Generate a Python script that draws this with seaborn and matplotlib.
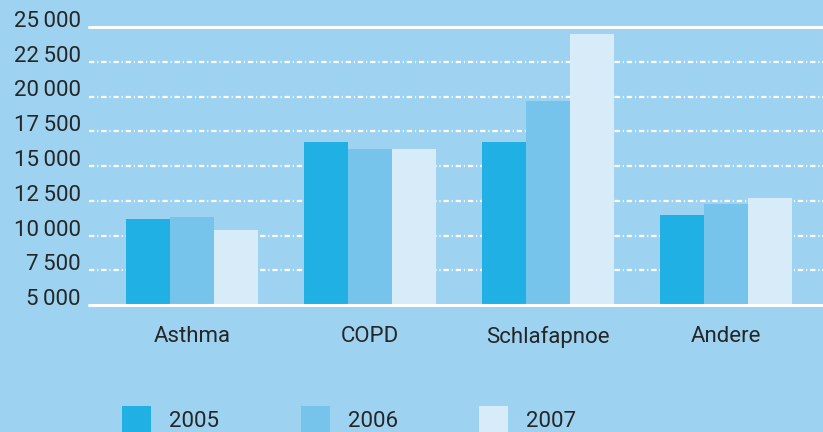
import matplotlib
matplotlib.use("Agg")
import matplotlib.pyplot as plt
from matplotlib import font_manager
from matplotlib.patches import Rectangle
import seaborn as sns
import pandas as pd

categories = ["Asthma", "COPD", "Schlafapnoe", "Andere"]
years = ["2005", "2006", "2007"]
values_2005 = [11200, 16700, 16700, 11500]
values_2006 = [11300, 16200, 19700, 12300]
values_2007 = [10400, 16200, 24500, 12700]
yticks = [5000, 7500, 10000, 12500, 15000, 17500, 20000, 22500, 25000]
ytick_labels = ["5\u2009000", "7\u2009500", "10\u2009000", "12\u2009500", "15\u2009000",
                "17\u2009500", "20\u2009000", "22\u2009500", "25\u2009000"]

colors = ["#20b0e4", "#76c4ec", "#d7ebf8"]
bg = "#9dd3f1"

sns.set_theme(style="white")
avail = {f.name for f in font_manager.fontManager.ttflist}
if "Liberation Sans Narrow" in avail:
    fam = ["Liberation Sans Narrow", "DejaVu Sans"]
    fs = 16.5
else:
    fam = ["Roboto", "DejaVu Sans"]
    fs = 16
plt.rcParams["font.family"] = fam
txtcol = "#262626"

rows = []
for y, vals in zip(years, [values_2005, values_2006, values_2007]):
    for c, v in zip(categories, vals):
        rows.append({"cat": c, "year": y, "value": v})
df = pd.DataFrame(rows)

W, H = 823, 432
fig = plt.figure(figsize=(W / 100, H / 100), dpi=100, facecolor=bg)
ax = fig.add_axes([89 / W, (H - 305) / H, (W - 89) / W, (305 - 27) / H])
ax.set_facecolor(bg)

# grid lines
for t in yticks[1:-1]:
    ax.axhline(t, color="white", lw=1.6, dashes=(2.4, 1.3, 0.5, 1.3), zorder=0)
ax.axhline(25000, color="white", lw=2.2, zorder=0, clip_on=False)

sns.barplot(data=df, x="cat", y="value", hue="year", palette=colors,
            saturation=1, width=0.742, gap=0, ax=ax, legend=False, zorder=2,
            linewidth=0)
ax.axhline(5000, color="white", lw=2.2, zorder=3, clip_on=False)

ax.set_ylim(5000, 25000)
ax.set_xlim(-0.579, 3.545)
ax.set_yticks(yticks)
ax.set_yticklabels(ytick_labels)
for lab in ax.get_yticklabels():
    lab.set_va("baseline")
ax.tick_params(axis="y", length=0, pad=6, labelsize=fs, labelcolor=txtcol)
ax.tick_params(axis="x", length=0, pad=15, labelsize=fs, labelcolor=txtcol)
ax.set_xlabel("")
ax.set_ylabel("")
for s in ax.spines.values():
    s.set_visible(False)

# legend
sq_x = [122, 301, 479]
for x0, col, yr in zip(sq_x, colors, years):
    fig.add_artist(Rectangle((x0 / W, 0), 29 / W, (H - 406) / H,
                             transform=fig.transFigure, facecolor=col,
                             edgecolor="none"))
    fig.text((x0 + 47) / W, (H - 427) / H, yr, fontsize=fs, color=txtcol,
             ha="left", va="baseline")

fig.savefig("out.png", dpi=100, facecolor=bg)
